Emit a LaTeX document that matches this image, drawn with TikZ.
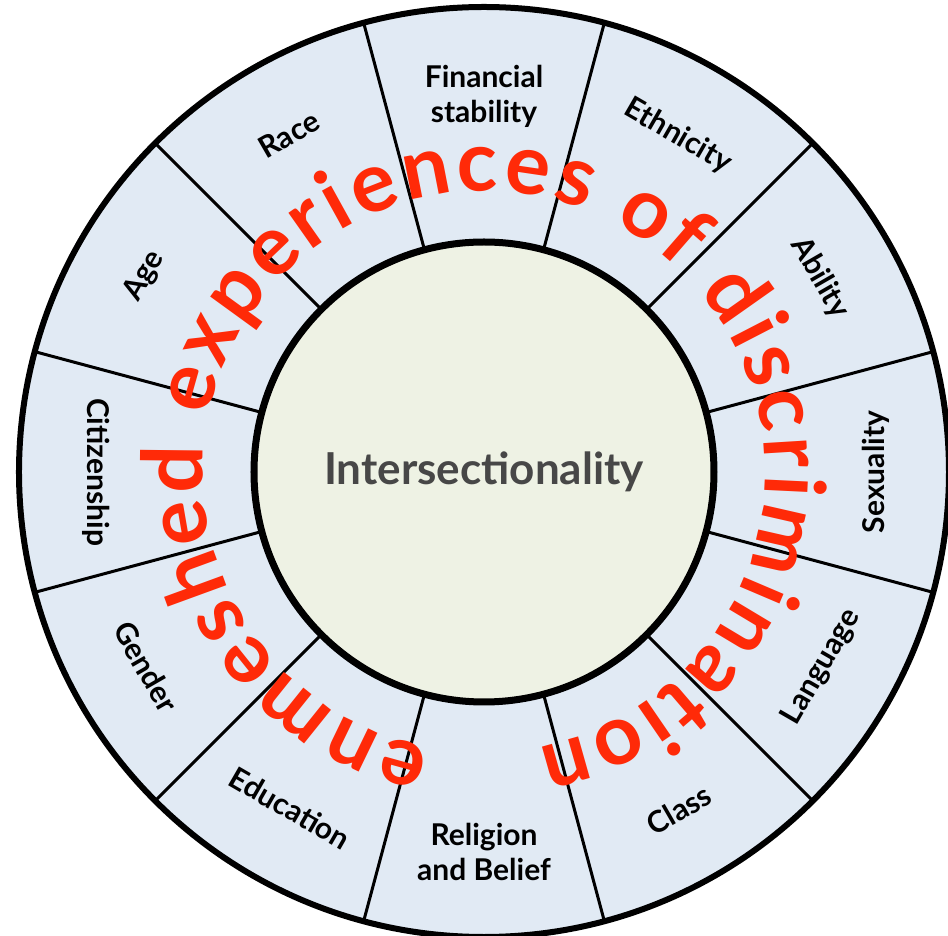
\documentclass[tikz,border=0pt]{standalone}
\usepackage{fontspec}
\usepackage{xcolor}
\usepackage{tikz}
\usetikzlibrary{decorations.text}
\setmainfont{Lato}
\newfontfamily\sketchfam{Lato}
\definecolor{ringblue}{RGB}{225,234,244}
\definecolor{coregreen}{RGB}{238,242,228}
\definecolor{sketchred}{RGB}{255,42,8}

\begin{document}
\begin{tikzpicture}[
    x=1pt, y=1pt,
    ring/.style={draw, circle, line width=6pt, fill=ringblue, minimum size=930pt, inner sep=0pt, outer sep=0pt},
    core/.style={draw, circle, line width=7pt, fill=coregreen, minimum size=460pt, inner sep=0pt, outer sep=0pt,
        font=\fontsize{44}{50}\selectfont\bfseries, text=black!72},
    tag/.style={font=\fontsize{30}{35}\selectfont\bfseries, align=center}
]
    \useasboundingbox (-484,-464) rectangle (464,472);
    \node[ring] (ring) at (0,0) {};
    \node[core] (core) at (0,0) {Intersectionality};

    \foreach \a in {15,45,...,345}
        \draw[line width=3pt] (core.\a) -- (ring.\a);

    \foreach \a/\r/\rot/\txt [count=\i] in {
        90/376/0/{Financial\\stability}, 60/388/-30/Ethnicity, 30/388/-60/Ability,
        0/392/90/Sexuality, -30/390/60/Language, -60/390/30/Class,
        -90/380/0/{Religion\\and Belief}, -120/388/-30/Education, -150/390/-60/Gender,
        180/388/-90/Citizenship, 150/392/60/Age, 120/390/30/Race}
        \node[tag, rotate=\rot] (tag\i) at (\a:\r) {\txt};

    \path[decorate, decoration={text along path, text align=fit to path, text color=sketchred,
        text={|\fontsize{84}{90}\selectfont\sketchfam\bfseries|enmeshed experiences of discrimination}}]
        (-101:281) arc[start angle=-101, end angle=-439, radius=281];
\end{tikzpicture}
\end{document}
